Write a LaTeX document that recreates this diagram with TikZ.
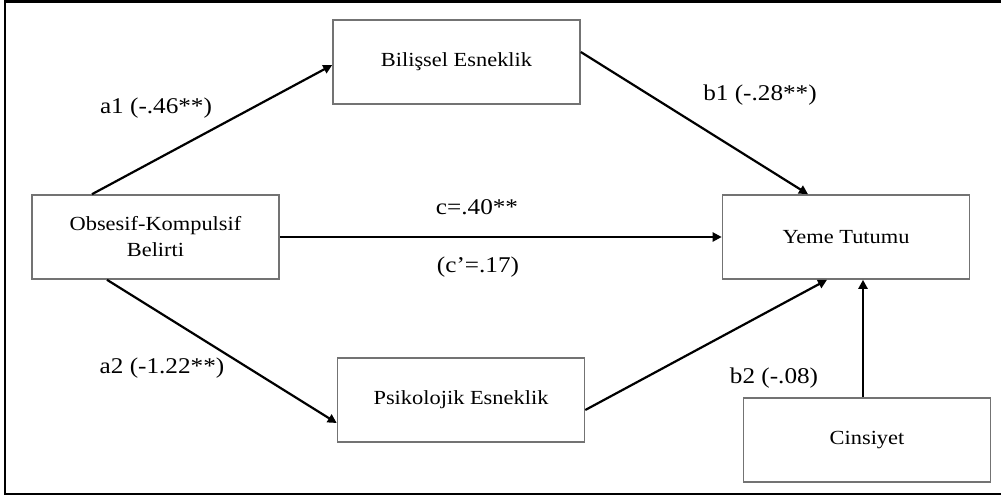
\documentclass[tikz,border=0pt]{standalone}
\usepackage{fontspec}
\setmainfont[FakeStretch=1.12]{Liberation Serif}
\usetikzlibrary{arrows.meta}
\tikzset{
  box/.style={draw=black!55, line width=1.6pt, rectangle, minimum width=247pt, minimum height=84pt, inner sep=0pt, font=\fontsize{20}{24}\selectfont, align=center},
  arr/.style={draw=black, line width=2.2pt, -{Triangle[length=9pt,width=9pt]}},
  lab/.style={inner sep=0pt, font=\fontsize{22.5}{27}\selectfont}
}
\begin{document}
\begin{tikzpicture}[x=1pt,y=-1pt]
\useasboundingbox (0,0) rectangle (1001,498);
\fill[white] (0,0) rectangle (1001,498);
\draw[line width=2.2pt] (5,1.5) rectangle (1006,494);
\node[box] (bil) at (456.5,62) {Bilişsel Esneklik};
\node[box] (obs) at (155.5,237) {Obsesif-Kompulsif\\[2pt]Belirti};
\node[box] (yeme) at (846,237) {Yeme Tutumu};
\node[box] (psi) at (461,400) {Psikolojik Esneklik};
\node[box] (cin) at (867,440) {Cinsiyet};
\draw[arr] ([xshift=-63.5pt]obs.north) -- ([yshift=-3pt]bil.west);
\draw[arr] ([yshift=10pt]bil.east) -- ([xshift=-38pt]yeme.north);
\draw[arr] (obs.east) -- (yeme.west);
\draw[arr] ([xshift=-48.5pt]obs.south) -- ([yshift=-23pt]psi.west);
\draw[arr] ([yshift=-10pt]psi.east) -- ([xshift=-19pt]yeme.south);
\draw[arr] ([xshift=-4pt]cin.north) -- ([xshift=17pt]yeme.south);
\node[lab] (la1) at (156,108) {a1 (-.46**)};
\node[lab] (lb1) at (760,95) {b1 (-.28**)};
\node[lab] (lc) at (477,207) {c=.40**};
\node[lab] (lcp) at (478,267) {(c’=.17)};
\node[lab] (la2) at (162,368) {a2 (-1.22**)};
\node[lab] (lb2) at (774,378) {b2 (-.08)};
\end{tikzpicture}
\end{document}
